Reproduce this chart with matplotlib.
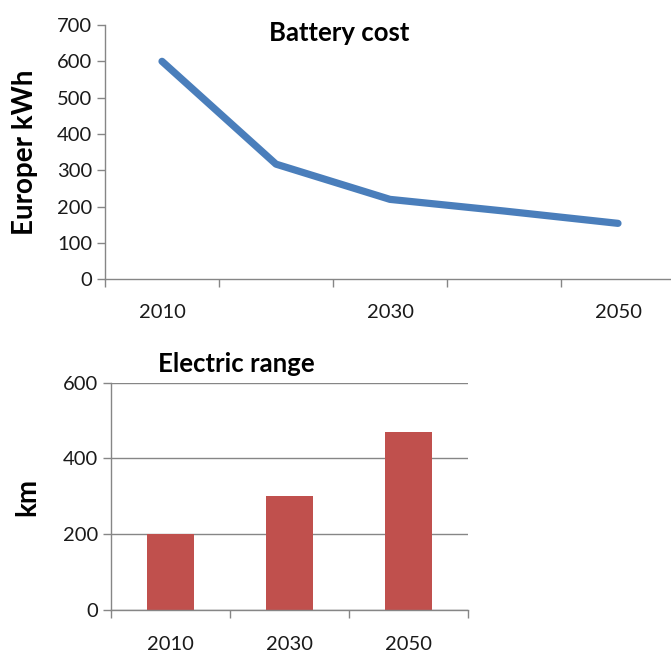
import matplotlib
matplotlib.use("Agg")
import matplotlib.pyplot as plt

plt.rcParams['font.family'] = ['Lato', 'DejaVu Sans']

# Battery cost (Euro per kWh)
cost_years = ["2010", "2020", "2030", "2040", "2050"]
cost_values = [600, 317, 220, 188, 154]
cost_labels = ["2010", "", "2030", "", "2050"]

# Electric range (km)
range_years = ["2010", "2030", "2050"]
range_values = [200, 300, 470]

W, H = 671, 655
fig = plt.figure(figsize=(W / 100, H / 100), dpi=100)

axis_grey = "#868686"
text_col = "#1a1a1a"
tick_fs = 14.5
title_fs = 18.5

# ---- Top: line chart ----
ax1 = fig.add_axes([105 / W, 1 - 279.3 / H, 570 / W, 254.3 / H])
x1 = range(len(cost_years))
ax1.plot(x1, cost_values, color="#4a7ebb", lw=5.2, solid_capstyle="round",
         solid_joinstyle="round")
ax1.set_xlim(-0.5, len(cost_years) - 0.5)
ax1.set_ylim(0, 700)
ax1.set_yticks(range(0, 701, 100))
ax1.set_xticks(list(x1))
ax1.set_xticklabels(cost_labels)
ax1.set_xticks([i - 0.5 for i in range(len(cost_years) + 1)], minor=True)
ax1.tick_params(axis="x", which="major", length=0, pad=18, labelsize=tick_fs,
                labelcolor=text_col)
ax1.tick_params(axis="x", which="minor", length=6, width=1, color=axis_grey)
ax1.tick_params(axis="y", length=6, width=1, color=axis_grey, labelsize=tick_fs,
                labelcolor=text_col, pad=3)
for s in ("top", "right"):
    ax1.spines[s].set_visible(False)
for s in ("left", "bottom"):
    ax1.spines[s].set_color(axis_grey)
    ax1.spines[s].set_linewidth(1)
fig.text(25 / W, 1 - 152 / H, "Europer kWh", rotation=90, ha="center",
         va="center", fontsize=20, fontweight="bold", color="black")
fig.text(339 / W, 1 - 33 / H, "Battery cost", ha="center", va="center",
         fontsize=title_fs, fontweight="bold", color="black")

# ---- Bottom: bar chart ----
ax2 = fig.add_axes([111 / W, 1 - 610 / H, 357 / W, 227.3 / H])
x2 = range(len(range_years))
ax2.bar(x2, range_values, width=0.4, color="#c0504d", zorder=3)
ax2.set_xlim(-0.5, len(range_years) - 0.5)
ax2.set_ylim(0, 600)
ax2.set_yticks([0, 200, 400, 600])
ax2.set_xticks(list(x2))
ax2.set_xticklabels(range_years)
ax2.set_xticks([i - 0.5 for i in range(len(range_years) + 1)], minor=True)
ax2.tick_params(axis="x", which="major", length=0, pad=18.5, labelsize=tick_fs,
                labelcolor=text_col)
ax2.tick_params(axis="x", which="minor", length=6, width=1, color=axis_grey)
ax2.tick_params(axis="y", length=6, width=1, color=axis_grey, labelsize=tick_fs,
                labelcolor=text_col, pad=3)
ax2.yaxis.grid(True, color=axis_grey, lw=1, zorder=0)
for s in ("top", "right"):
    ax2.spines[s].set_visible(False)
for s in ("left", "bottom"):
    ax2.spines[s].set_color(axis_grey)
    ax2.spines[s].set_linewidth(1)
    ax2.spines[s].set_zorder(4)
fig.text(27 / W, 1 - 497 / H, "km", rotation=90, ha="center", va="center",
         fontsize=20, fontweight="bold", color="black")
fig.text(236 / W, 1 - 364 / H, "Electric range", ha="center", va="center",
         fontsize=title_fs, fontweight="bold", color="black")

fig.savefig("out.png", dpi=100, facecolor="white")
